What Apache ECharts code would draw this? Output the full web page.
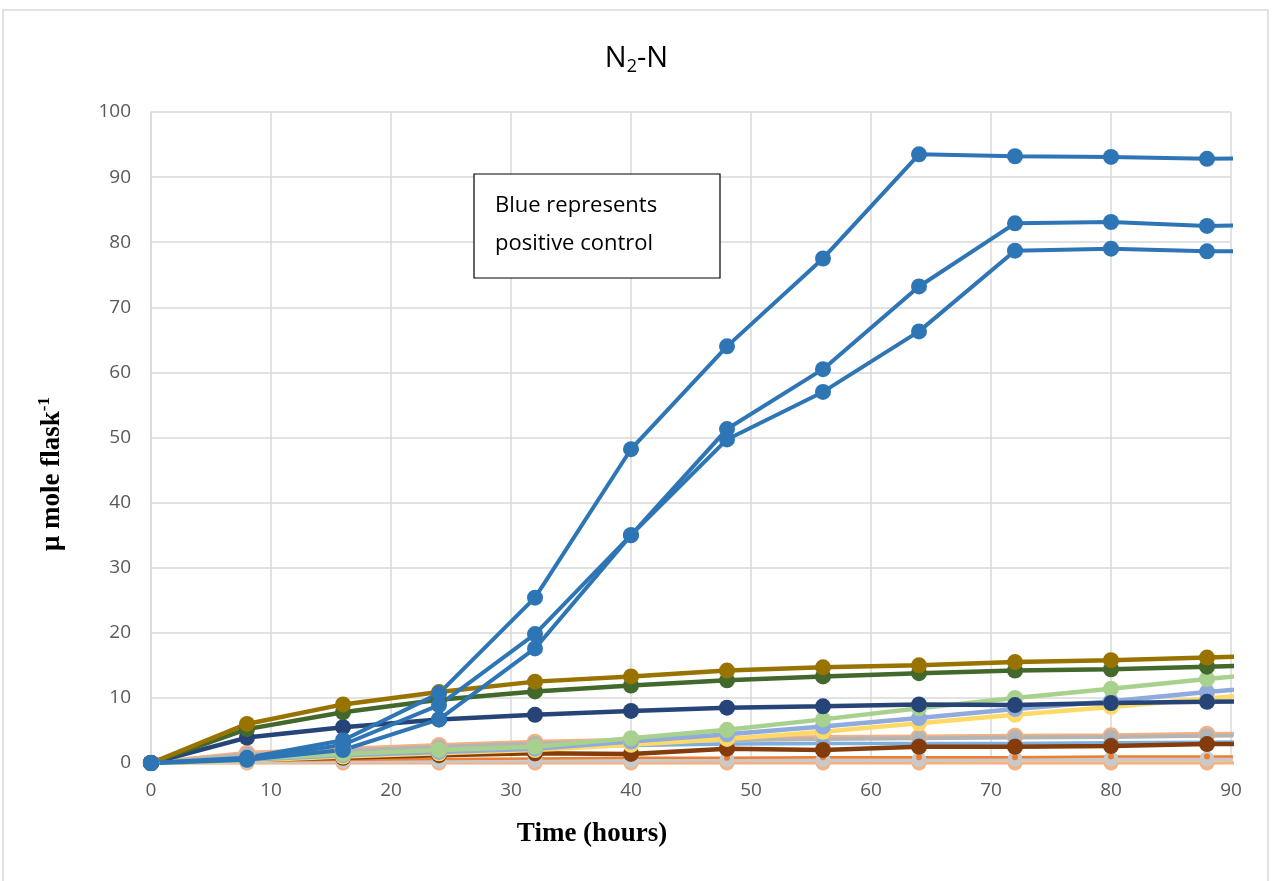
<!DOCTYPE html>
<html>
<head>
<meta charset="utf-8">
<script src="https://cdn.jsdelivr.net/npm/echarts@6/dist/echarts.min.js"></script>
<style>
    html, body { margin: 0; padding: 0; background: #fff; }
    #n2-chart { width: 1273px; height: 881px; }
</style>
</head>
<body>
<div id="n2-chart"></div>
<script>
// sampling times (hours); the last point lies past the axis end and is clipped
const hours = [0, 8, 16, 24, 32, 40, 48, 56, 64, 72, 80, 88, 96];

// positive controls (blue)
const blueA = [0, 0.8, 3.5, 10.7, 25.4, 48.2, 64.0, 77.5, 93.5, 93.2, 93.1, 92.8, 93.0];
const blueB = [0, 0.6, 2.8, 8.9, 19.8, 35.0, 51.3, 60.5, 73.2, 82.9, 83.1, 82.5, 82.7];
const blueC = [0, 0.5, 2.0, 6.7, 17.6, 35.0, 49.7, 57.0, 66.3, 78.7, 79.0, 78.6, 78.7];

// treatments
const olive = [0, 6.0, 9.0, 10.9, 12.5, 13.3, 14.2, 14.7, 15.0, 15.5, 15.8, 16.2, 16.6];
const green = [0, 5.2, 7.8, 9.7, 11.0, 11.9, 12.7, 13.3, 13.8, 14.2, 14.4, 14.8, 15.1];
const navy = [0, 3.9, 5.5, 6.7, 7.4, 8.0, 8.5, 8.7, 9.0, 8.9, 9.2, 9.4, 9.6];
const lightGreen = [0, 0.6, 1.4, 2.0, 2.5, 3.8, 5.1, 6.7, 8.4, 10.0, 11.4, 12.9, 14.3];
const periwinkle = [0, 0.5, 1.2, 1.7, 2.2, 3.3, 4.4, 5.6, 6.9, 8.3, 9.5, 10.9, 12.2];
const yellow = [0, 0.4, 1.0, 1.5, 2.0, 2.8, 3.7, 4.8, 6.1, 7.4, 8.6, 9.9, 11.1];
const orange = [0, 1.5, 2.1, 2.7, 3.2, 3.5, 3.7, 3.9, 4.0, 4.1, 4.2, 4.4, 4.5];
const gray = [0, 1.3, 1.9, 2.5, 3.0, 3.3, 3.5, 3.7, 3.8, 3.9, 4.0, 4.2, 4.3];
const lightBlue = [0, 0.9, 1.5, 2.0, 2.4, 2.7, 2.9, 3.0, 3.0, 3.0, 3.1, 3.2, 3.3];
const brown = [0, 0.5, 0.8, 1.2, 1.5, 1.4, 2.2, 2.0, 2.5, 2.5, 2.6, 2.9, 3.0];
const thinOrange = [0, 0.3, 0.5, 0.6, 0.7, 0.8, 0.8, 0.9, 0.9, 0.9, 1.0, 1.0, 1.0];
const silver = [0, 0.2, 0.3, 0.3, 0.4, 0.4, 0.5, 0.5, 0.5, 0.6, 0.6, 0.6, 0.6];
const peach = [0, 0, 0, 0, 0, 0, 0, 0, 0, 0, 0, 0, 0];

const xTicks = [0, 10, 20, 30, 40, 50, 60, 70, 80, 90];
const yTicks = [0, 10, 20, 30, 40, 50, 60, 70, 80, 90, 100];

const pairs = vals => hours.map((h, i) => [h, vals[i]]);

const makeLine = (name, vals, color, width, size) => ({
    name: name,
    type: 'line',
    data: pairs(vals),
    clip: true,
    symbol: 'circle',
    symbolSize: size,
    showSymbol: true,
    lineStyle: { color: color, width: width },
    itemStyle: { color: color },
    emphasis: { disabled: true },
    animation: false
});

let chartDom = document.getElementById('n2-chart');
let n2_chart = echarts.init(chartDom);

let option = {
    animation: false,
    grid: { left: 151, right: 42, top: 112, bottom: 118 },
    xAxis: {
        type: 'value',
        min: xTicks[0],
        max: xTicks[xTicks.length - 1],
        interval: 10,
        axisLine: { show: true, lineStyle: { color: '#d9d9d9', width: 1.5 } },
        axisTick: { show: false },
        axisLabel: { color: '#595959', fontSize: 19, fontFamily: 'Open Sans', margin: 18 },
        splitLine: { show: true, lineStyle: { color: '#d9d9d9', width: 1.5 } }
    },
    yAxis: {
        type: 'value',
        min: yTicks[0],
        max: yTicks[yTicks.length - 1],
        interval: 10,
        axisLine: { show: true, lineStyle: { color: '#d9d9d9', width: 1.5 } },
        axisTick: { show: false },
        axisLabel: { color: '#595959', fontSize: 19, fontFamily: 'Open Sans', margin: 20 },
        splitLine: { show: true, lineStyle: { color: '#d9d9d9', width: 1.5 } }
    },
    series: [
        makeLine('peach', peach, '#f4b183', 3.5, 15),
        makeLine('silver', silver, '#c9c9c9', 4, 15),
        makeLine('thinOrange', thinOrange, '#ed7d31', 2.5, 6),
        makeLine('orange', orange, '#f4b183', 5, 17),
        makeLine('gray', gray, '#b4b4b4', 4, 15),
        makeLine('lightBlue', lightBlue, '#7cafdd', 3.5, 12),
        makeLine('brown', brown, '#843c0c', 4.5, 16),
        makeLine('yellow', yellow, '#ffd966', 4.5, 16),
        makeLine('periwinkle', periwinkle, '#8faadc', 4.5, 16),
        makeLine('lightGreen', lightGreen, '#a9d18e', 4.5, 16),
        makeLine('navy', navy, '#264478', 4.5, 16),
        makeLine('green', green, '#43682b', 4.5, 16),
        makeLine('olive', olive, '#997300', 4.5, 16),
        makeLine('blueC', blueC, '#2e75b6', 4, 16),
        makeLine('blueB', blueB, '#2e75b6', 4, 16),
        makeLine('blueA', blueA, '#2e75b6', 4, 16)
    ],
    graphic: [
        {
            type: 'rect',
            silent: true,
            z: -10,
            shape: { x: 3, y: 10, width: 1265, height: 880 },
            style: { fill: 'none', stroke: '#d9d9d9', lineWidth: 1.5 }
        },
        {
            type: 'text',
            left: 'center',
            top: 44,
            style: {
                text: '{n|N}{s|2}{n|-N}',
                rich: {
                    n: { fontSize: 29, color: '#595959', fontFamily: 'Open Sans' },
                    s: { fontSize: 18, color: '#595959', fontFamily: 'Open Sans', padding: [16, 0, 0, 0] }
                }
            }
        },
        {
            type: 'rect',
            z: 10,
            shape: { x: 474, y: 174, width: 246, height: 104 },
            style: { fill: '#fff', stroke: '#000', lineWidth: 1.2 }
        },
        {
            type: 'text',
            z: 11,
            x: 495,
            y: 187,
            style: {
                text: 'Blue represents\npositive control',
                fontSize: 22,
                lineHeight: 38,
                fontFamily: 'Open Sans',
                fill: '#000'
            }
        },
        {
            type: 'text',
            x: 592,
            y: 834,
            style: {
                text: 'Time (hours)',
                fontSize: 27,
                fontWeight: 'bold',
                fontFamily: 'Liberation Serif',
                fill: '#000',
                align: 'center',
                verticalAlign: 'middle'
            }
        },
        {
            type: 'text',
            x: 52,
            y: 474,
            rotation: Math.PI / 2,
            style: {
                text: '{m|μ mole flask}{e|-1}',
                align: 'center',
                verticalAlign: 'middle',
                rich: {
                    m: { fontSize: 27, fontWeight: 'bold', fontFamily: 'Liberation Serif', color: '#000' },
                    e: { fontSize: 17, fontWeight: 'bold', fontFamily: 'Liberation Serif', color: '#000', padding: [0, 0, 14, 0] }
                }
            }
        }
    ]
};

n2_chart.setOption(option);
window.addEventListener('resize', n2_chart.resize);
</script>
</body>
</html>
